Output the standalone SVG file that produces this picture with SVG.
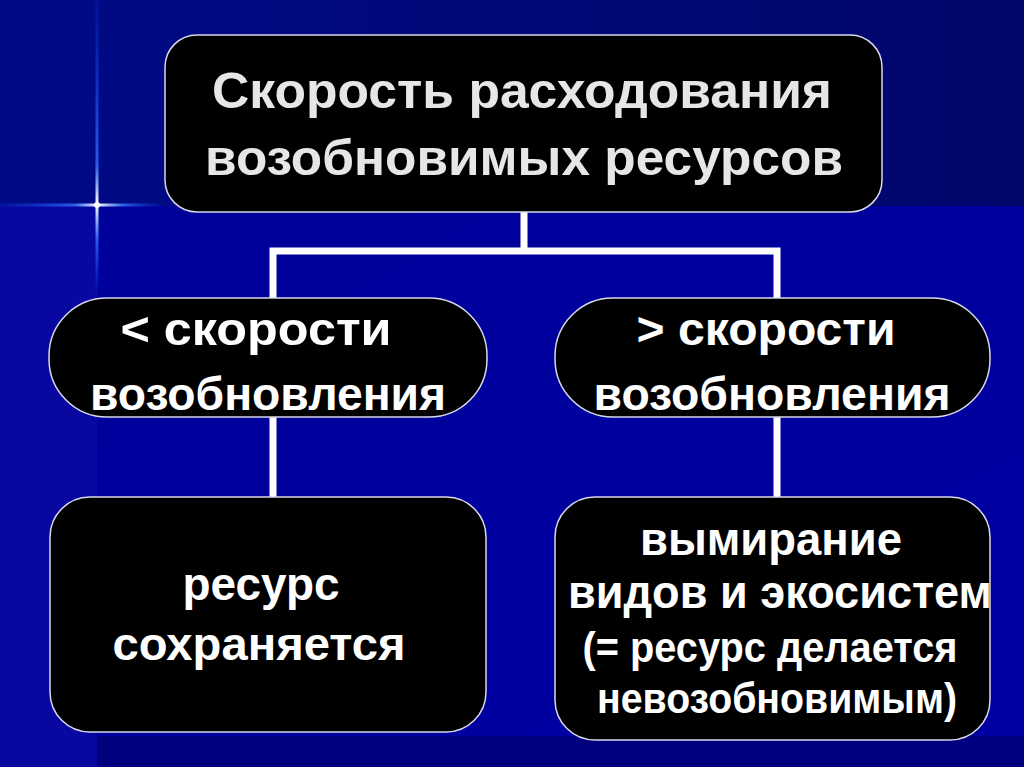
<svg xmlns="http://www.w3.org/2000/svg" width="1024" height="767" viewBox="0 0 1024 767">
<defs>
<linearGradient id="topband" x1="0" y1="0" x2="1" y2="0">
<stop offset="0" stop-color="#000a86"/>
<stop offset="1" stop-color="#00066a"/>
</linearGradient>
<linearGradient id="mainbg" x1="0" y1="0" x2="1" y2="1">
<stop offset="0" stop-color="#00009a"/>
<stop offset="1" stop-color="#0000a2"/>
</linearGradient>
<linearGradient id="starH" x1="0" y1="0" x2="1" y2="0">
<stop offset="0" stop-color="#1040ff" stop-opacity="0.2"/>
<stop offset="0.45" stop-color="#3070ff" stop-opacity="0.8"/>
<stop offset="0.59" stop-color="#ffffff" stop-opacity="1"/>
<stop offset="0.75" stop-color="#3070ff" stop-opacity="0.8"/>
<stop offset="1" stop-color="#1040ff" stop-opacity="0"/>
</linearGradient>
<linearGradient id="starV" x1="0" y1="0" x2="0" y2="1">
<stop offset="0" stop-color="#1040ff" stop-opacity="0.15"/>
<stop offset="0.55" stop-color="#3070ff" stop-opacity="0.8"/>
<stop offset="0.68" stop-color="#ffffff" stop-opacity="1"/>
<stop offset="0.8" stop-color="#3070ff" stop-opacity="0.8"/>
<stop offset="1" stop-color="#1040ff" stop-opacity="0"/>
</linearGradient>
<style>
.box { fill: #000000; stroke: #d8d8e8; stroke-width: 1.5; }
.conn { stroke: #ffffff; stroke-width: 7; fill: none; stroke-linecap: butt; }
.t { font-family: "Liberation Sans", Arial, sans-serif; font-weight: bold; fill: #ffffff; text-anchor: middle; }
.title { fill: #e6e6e6; font-size: 50px; }
.mid { font-size: 46px; }
.low { font-size: 46px; }
.small { font-size: 42px; }
</style>
</defs>

<!-- background -->
<rect x="0" y="0" width="1024" height="767" fill="#000090"/>
<rect x="0" y="0" width="1024" height="206" fill="url(#topband)"/>
<rect x="0" y="206" width="97" height="561" fill="#0808a0"/>
<rect x="97" y="206" width="927" height="530" fill="url(#mainbg)"/>
<rect x="97" y="736" width="927" height="31" fill="#00007e"/>

<!-- star flare -->
<rect x="0" y="203.5" width="165" height="3" fill="url(#starH)"/>
<rect x="95.5" y="0" width="3" height="300" fill="url(#starV)"/>
<circle cx="97" cy="205" r="3" fill="#ffffff" opacity="0.9"/>

<!-- connectors -->
<g id="connectors">
<path class="conn" d="M524 212 V251 M269.5 251 H780.5 M273 251 V298 M777 251 V298"/>
<path class="conn" d="M273 417 V497 M777 417 V497"/>
</g>

<g id="node-root">
<rect class="box" x="165" y="35" width="717" height="177" rx="32" ry="32"/>
<text class="t title" x="522" y="108" textLength="620" lengthAdjust="spacingAndGlyphs">Скорость расходования</text>
<text class="t title" x="524" y="175" textLength="638" lengthAdjust="spacingAndGlyphs">возобновимых ресурсов</text>
</g>

<g id="node-less">
<rect class="box" x="49" y="298" width="438" height="119" rx="58" ry="58"/>
<text class="t mid" x="256" y="345" textLength="271" lengthAdjust="spacingAndGlyphs">&lt; скорости</text>
<text class="t mid" x="268" y="410" textLength="356" lengthAdjust="spacingAndGlyphs">возобновления</text>
</g>

<g id="node-more">
<rect class="box" x="555" y="298" width="435" height="119" rx="58" ry="58"/>
<text class="t mid" x="766" y="345" textLength="259" lengthAdjust="spacingAndGlyphs">&gt; скорости</text>
<text class="t mid" x="772" y="410" textLength="357" lengthAdjust="spacingAndGlyphs">возобновления</text>
</g>

<g id="node-keep">
<rect class="box" x="50" y="497" width="436" height="235" rx="40" ry="40"/>
<text class="t low" x="261" y="600" textLength="157" lengthAdjust="spacingAndGlyphs">ресурс</text>
<text class="t low" x="259" y="660" textLength="293" lengthAdjust="spacingAndGlyphs">сохраняется</text>
</g>

<g id="node-extinct">
<rect class="box" x="555" y="497" width="435" height="243" rx="40" ry="40"/>
<text class="t low" x="771" y="555" textLength="262" lengthAdjust="spacingAndGlyphs">вымирание</text>
<text class="t low" x="780" y="608" textLength="424" lengthAdjust="spacingAndGlyphs">видов и экосистем</text>
<text class="t small" x="770" y="662" textLength="375" lengthAdjust="spacingAndGlyphs">(= ресурс делается</text>
<text class="t small" x="777" y="713" textLength="360" lengthAdjust="spacingAndGlyphs">невозобновимым)</text>
</g>
</svg>
